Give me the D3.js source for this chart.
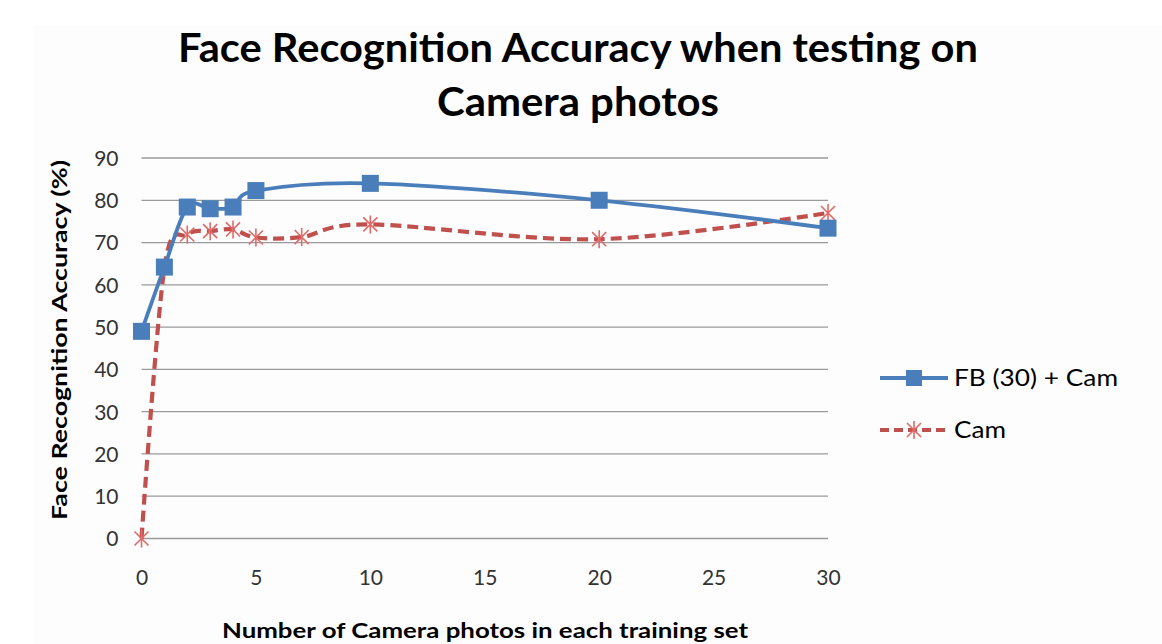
<!DOCTYPE html>
<html>
<head>
<meta charset="utf-8">
<script src="https://cdn.jsdelivr.net/npm/d3@7/dist/d3.min.js"></script>
<style>
  html, body { margin: 0; padding: 0; background: #ffffff; }
  svg { display: block; }
</style>
</head>
<body>
<svg id="chart" width="1162" height="644"></svg>
<script>
// ---- data ----
const titleLines = ["Face Recognition Accuracy when testing on", "Camera photos"];
const xAxisTitle = "Number of Camera photos in each training set";
const yAxisTitle = "Face Recognition Accuracy (%)";
const xTicks = [0, 5, 10, 15, 20, 25, 30];
const yTicks = [0, 10, 20, 30, 40, 50, 60, 70, 80, 90];

const fbX      = [0, 1, 2, 3, 4, 5, 10, 20, 30];
const fbValues = [49, 64.2, 78.4, 78, 78.4, 82.3, 84, 80, 73.4];
const camX      = [0, 1, 2, 3, 4, 5, 7, 10, 20, 30];
const camValues = [0, 64, 71.9, 72.7, 73.1, 71.2, 71.3, 74.3, 70.8, 77];

const seriesNames = ["FB (30) + Cam", "Cam"];

// ---- layout ----
const svg = d3.select("#chart");
const W = 1162, H = 644;
const plot = { left: 141.5, right: 828, top: 158, bottom: 538.5 };
const blue = "#4A7EBB", red = "#C0504D", star = "#E06A68";
const fontLabel = "Lato, 'Open Sans', sans-serif";
const fontTitle = "Lato, 'Open Sans', sans-serif";

svg.append("rect").attr("x", 0).attr("y", 0).attr("width", W).attr("height", H).attr("fill", "#ffffff");
svg.append("rect").attr("x", 33).attr("y", 25).attr("width", W - 33).attr("height", H - 25).attr("fill", "#fdfdfd");

const x = d3.scaleLinear().domain([0, 30]).range([plot.left, plot.right]);
const y = d3.scaleLinear().domain([0, 90]).range([plot.bottom, plot.top]);

// gridlines
svg.append("g").selectAll("line").data(yTicks).enter().append("line")
  .attr("x1", plot.left).attr("x2", plot.right)
  .attr("y1", d => y(d)).attr("y2", d => y(d))
  .attr("stroke", "#9a9a9a").attr("stroke-width", 1.3);

const yAxis = d3.axisLeft(y).tickValues(yTicks).tickSize(0).tickPadding(0);
const yg = svg.append("g").attr("transform", `translate(${plot.left - 23},0)`).call(yAxis);
yg.select(".domain").remove();
yg.selectAll("text").attr("font-family", fontLabel).attr("font-size", 21).attr("fill", "#333").attr("dy", "0.35em");

const xAxis = d3.axisBottom(x).tickValues(xTicks).tickSize(0).tickPadding(0);
const xg = svg.append("g").attr("transform", `translate(0,${plot.bottom + 32})`).call(xAxis);
xg.select(".domain").remove();
xg.selectAll("text").attr("font-family", fontLabel).attr("font-size", 21).attr("fill", "#333").attr("dy", "0.71em");

// lines
const line = d3.line().curve(d3.curveCardinal.tension(0)).x(d => x(d[0])).y(d => y(d[1]));
const fbData = fbX.map((v, i) => [v, fbValues[i]]);
const camData = camX.map((v, i) => [v, camValues[i]]);

function starPathX(cx, cy, r) {
  const a = r * 0.78;
  return `M${cx},${cy - r}L${cx},${cy + r}` +
         `M${cx - a},${cy - a}L${cx + a},${cy + a}` +
         `M${cx - a},${cy + a}L${cx + a},${cy - a}`;
}

// Cam series (drawn first, behind)
svg.append("path").datum(camData).attr("d", line)
  .attr("fill", "none").attr("stroke", red).attr("stroke-width", 4.2)
  .attr("stroke-dasharray", "11,6").attr("stroke-linecap", "butt");
svg.append("g").selectAll("path").data(camData).enter().append("path")
  .attr("d", d => starPathX(x(d[0]), y(d[1]), 9))
  .attr("stroke", star).attr("stroke-width", 1.6).attr("fill", "none");

// FB series
svg.append("path").datum(fbData).attr("d", line)
  .attr("fill", "none").attr("stroke", blue).attr("stroke-width", 3.8);
const sq = 17;
svg.append("g").selectAll("rect").data(fbData).enter().append("rect")
  .attr("x", d => x(d[0]) - sq / 2).attr("y", d => y(d[1]) - sq / 2)
  .attr("width", sq).attr("height", sq).attr("fill", blue);

// title
const t = svg.append("g");
titleLines.forEach((s, i) => {
  t.append("text").attr("x", 578).attr("y", 62 + i * 54)
    .attr("text-anchor", "middle").attr("font-family", fontTitle)
    .attr("font-weight", "bold").attr("font-size", 40).attr("fill", "#000")
    .attr("textLength", i === 0 ? 800 : 282).attr("lengthAdjust", "spacingAndGlyphs")
    .text(s);
});

// axis titles
svg.append("text").attr("x", 485).attr("y", 638).attr("text-anchor", "middle")
  .attr("font-family", fontLabel).attr("font-weight", "bold").attr("font-size", 21)
  .attr("fill", "#000").attr("textLength", 526).attr("lengthAdjust", "spacingAndGlyphs")
  .text(xAxisTitle);
svg.append("text").attr("transform", `translate(67,340) rotate(-90)`).attr("text-anchor", "middle")
  .attr("font-family", fontLabel).attr("font-weight", "bold").attr("font-size", 21)
  .attr("fill", "#000").attr("textLength", 360).attr("lengthAdjust", "spacingAndGlyphs")
  .text(yAxisTitle);

// legend
const lg = svg.append("g");
const lx1 = 880, lx2 = 948, lmid = 914;
lg.append("line").attr("x1", lx1).attr("x2", lx2).attr("y1", 378).attr("y2", 378)
  .attr("stroke", blue).attr("stroke-width", 3.8);
lg.append("rect").attr("x", lmid - 8).attr("y", 378 - 8).attr("width", 16).attr("height", 16).attr("fill", blue);
lg.append("line").attr("x1", lx1).attr("x2", lx2).attr("y1", 430).attr("y2", 430)
  .attr("stroke", red).attr("stroke-width", 4.2).attr("stroke-dasharray", "9,5");
lg.append("path").attr("d", starPathX(lmid, 430, 9)).attr("stroke", star).attr("stroke-width", 1.6).attr("fill", "none");
seriesNames.forEach((s, i) => {
  lg.append("text").attr("x", 954).attr("y", 378 + i * 52).attr("dy", "0.35em")
    .attr("font-family", fontLabel).attr("font-size", 23).attr("fill", "#000")
    .attr("textLength", i === 0 ? 164 : 52).attr("lengthAdjust", "spacingAndGlyphs")
    .text(s);
});
</script>
</body>
</html>
